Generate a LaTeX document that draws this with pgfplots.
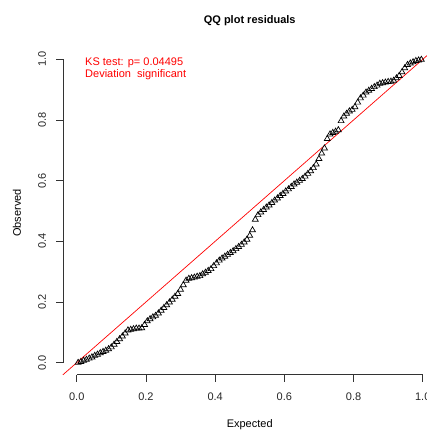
\documentclass[border=0pt]{standalone}
\usepackage{pgfplots}
\pgfplotsset{compat=1.18}
\usepackage{fontspec}
\setmainfont{Liberation Sans}
\begin{document}
\fontsize{11bp}{13bp}\selectfont
\begin{tikzpicture}
\begin{axis}[
  at={(62.9bp,55.2bp)}, anchor=south west,
  scale only axis, width=373.7bp, height=327.6bp,
  xmin=-0.04, xmax=1.04, ymin=-0.04, ymax=1.04,
  clip=false,
  axis line style={draw=none},
  xtick={0,0.2,0.4,0.6,0.8,1}, ytick={0,0.2,0.4,0.6,0.8,1},
  xticklabels={0.0,0.2,0.4,0.6,0.8,1.0},
  yticklabels={0.0,0.2,0.4,0.6,0.8,1.0},
  xtick pos=bottom, ytick pos=left,
  tick align=outside, major tick length=6.7bp,
  tick style={black!80, line width=0.8bp},
  xticklabel style={anchor=center, yshift=-15bp},
  yticklabel style={rotate=90, anchor=center, yshift=14bp},
  ticklabel style={font=\fontsize{11bp}{13bp}\selectfont, black!85},
]
\draw[black!80, line width=0.8bp] (axis cs:0,-0.04) -- (axis cs:1,-0.04);
\draw[black!80, line width=0.8bp] (axis cs:-0.04,0) -- (axis cs:-0.04,1);
\addplot[red, line width=0.7bp] coordinates {(-0.04,-0.04) (1.04,1.04)};
\addplot[only marks, mark=triangle, mark size=3.4bp, mark options={draw=black, line width=0.7bp, fill=none}] coordinates {
(0.004,0.000) (0.012,0.003) (0.020,0.007) (0.028,0.010) (0.036,0.014)
(0.044,0.018) (0.052,0.023) (0.060,0.027) (0.068,0.032) (0.076,0.036)
(0.084,0.040) (0.092,0.045) (0.100,0.051) (0.108,0.060) (0.116,0.069)
(0.124,0.078) (0.132,0.087) (0.140,0.097) (0.148,0.107) (0.156,0.109)
(0.164,0.111) (0.172,0.113) (0.180,0.113) (0.188,0.114) (0.196,0.125)
(0.204,0.137) (0.212,0.144) (0.220,0.150) (0.228,0.155) (0.236,0.163)
(0.244,0.172) (0.252,0.181) (0.260,0.190) (0.268,0.199) (0.276,0.208)
(0.284,0.218) (0.292,0.227) (0.300,0.241) (0.308,0.256) (0.316,0.271)
(0.324,0.277) (0.332,0.279) (0.340,0.281) (0.348,0.284) (0.356,0.286)
(0.364,0.292) (0.372,0.297) (0.380,0.303) (0.388,0.309) (0.396,0.319)
(0.404,0.328) (0.412,0.337) (0.420,0.344) (0.428,0.350) (0.436,0.356)
(0.444,0.362) (0.452,0.368) (0.460,0.375) (0.468,0.382) (0.476,0.389)
(0.484,0.397) (0.492,0.406) (0.500,0.419) (0.508,0.437) (0.516,0.472)
(0.524,0.487) (0.532,0.496) (0.540,0.504) (0.548,0.512) (0.556,0.519)
(0.564,0.527) (0.572,0.535) (0.580,0.542) (0.588,0.550) (0.596,0.557)
(0.604,0.565) (0.612,0.572) (0.620,0.580) (0.628,0.588) (0.636,0.594)
(0.644,0.600) (0.652,0.606) (0.660,0.614) (0.668,0.623) (0.676,0.632)
(0.684,0.642) (0.692,0.654) (0.700,0.672) (0.708,0.690) (0.716,0.707)
(0.724,0.738) (0.732,0.753) (0.740,0.758) (0.748,0.762) (0.756,0.767)
(0.764,0.797) (0.772,0.812) (0.780,0.821) (0.788,0.829) (0.796,0.834)
(0.804,0.843) (0.812,0.858) (0.820,0.872) (0.828,0.881) (0.836,0.891)
(0.844,0.897) (0.852,0.903) (0.860,0.909) (0.868,0.914) (0.876,0.920)
(0.884,0.922) (0.892,0.924) (0.900,0.926) (0.908,0.927) (0.916,0.930)
(0.924,0.938) (0.932,0.946) (0.940,0.958) (0.948,0.971) (0.956,0.982)
(0.964,0.987) (0.972,0.991) (0.980,0.995) (0.988,0.997) (0.996,0.999)
};
\end{axis}
\node[font=\fontsize{11bp}{13bp}\selectfont\bfseries, anchor=center] at (249.7bp,409.3bp) {QQ plot residuals};
\node[anchor=center] at (249.7bp,5bp) {Expected};
\node[anchor=center, rotate=90] at (17bp,217bp) {Observed};
\node[anchor=base west, red, inner sep=0pt] at (85bp,364.1bp) {KS test: p= 0.04495};
\node[anchor=base west, red, inner sep=0pt] at (85bp,352.1bp) {Deviation\ \ significant};
\pgfresetboundingbox
\useasboundingbox (0,0) rectangle (427bp,430bp);
\end{tikzpicture}
\end{document}
